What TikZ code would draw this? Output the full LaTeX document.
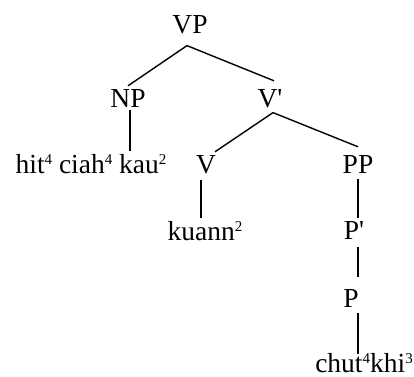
\documentclass[tikz,border=0pt]{standalone}
\usepackage{fontspec}
\setmainfont{Liberation Serif}
\usepackage{tikz}
\newcommand{\tone}[1]{\raisebox{9pt}{\fontsize{15}{15}\selectfont #1}}

\begin{document}
\begin{tikzpicture}[
  x=1pt,
  y=-1pt,
  font=\fontsize{27.5}{30}\selectfont,
  label/.style={anchor=base,inner sep=3pt},
  branch/.style={draw=black,line width=1.4pt},
  stem/.style={draw=black,line width=2.4pt}
]
\useasboundingbox (0,0) rectangle (414,376);

% Tree labels.
\node[label] (VP) at (190,33) {VP};
\node[label] (NP) at (128,107) {NP};
\node[label] (Vbar) at (270,107) {V\textquotesingle};
\node[label] (hit) at (91,173) {hit\tone{4} ciah\tone{4} kau\tone{2}};
\node[label] (V) at (206,173) {V};
\node[label] (PP) at (358,173) {PP};
\node[label] (kuann) at (205,240) {kuann\tone{2}};
\node[label] (Pbar) at (354,239) {P\textquotesingle};
\node[label] (P) at (351,307) {P};
\node[label] (chut) at (364,372) {chut\tone{4}khi\tone{3}};

% Branches.
\draw[branch] ([xshift=-3pt,yshift=-9pt]VP.south) -- (NP.north);
\draw[branch] ([xshift=-3pt,yshift=-9pt]VP.south) -- ([xshift=4pt,yshift=5pt]Vbar.north);
\draw[branch] ([xshift=3pt,yshift=-2pt]Vbar.south) -- ([xshift=9pt]V.north);
\draw[branch] ([xshift=3pt,yshift=-2pt]Vbar.south) -- ([yshift=5pt]PP.north);

% Unary stems.
\draw[stem] ([xshift=2pt]NP.south) -- ([xshift=2pt]NP.south |- hit.north);
\draw[stem] ([xshift=-5pt,yshift=-3pt]V.south) -- ([xshift=-5pt]V.south |- kuann.north);
\draw[stem] ([yshift=-3pt]PP.south) -- (PP.south |- Pbar.north);
\draw[stem] ([yshift=-5pt]PP.south |- Pbar.south) -- ([yshift=9pt]PP.south |- P.north);
\draw[stem] ([yshift=-3pt]PP.south |- P.south) -- ([yshift=-4pt]PP.south |- chut.north);

\end{tikzpicture}
\end{document}
